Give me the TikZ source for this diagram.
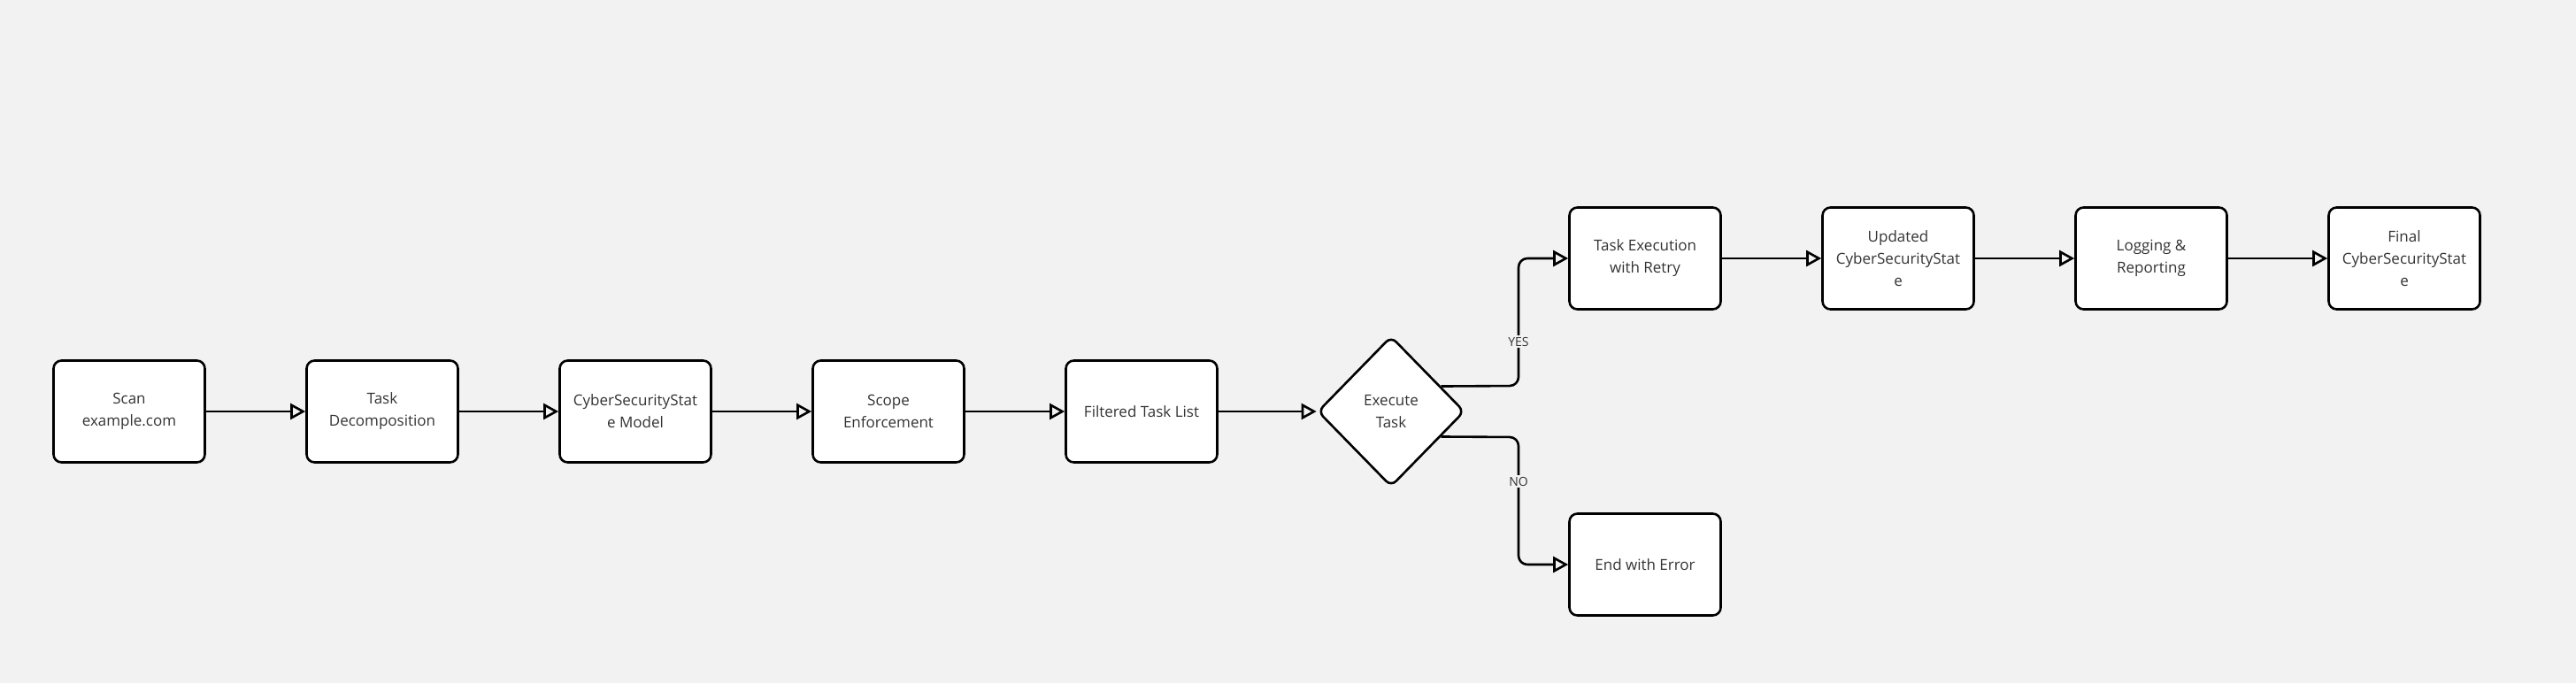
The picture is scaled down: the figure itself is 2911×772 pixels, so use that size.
\documentclass[tikz,border=0pt]{standalone}
\usepackage{fontspec}
\setmainfont{Open Sans}
\usetikzlibrary{shapes.geometric,arrows.meta,calc}
\begin{document}
\begin{tikzpicture}[x=1pt,y=-1pt,
  box/.style={draw=black,fill=white,line width=2.6pt,rounded corners=9pt,minimum width=171pt,minimum height=115pt,inner sep=0,align=center,text=black!80,font=\fontsize{17}{25}\selectfont},
  arr/.style={line width=2.6pt,-{Triangle[open,length=17pt,width=18pt,line width=2.6pt]},rounded corners=10pt},
  lab/.style={fill=bgc,inner sep=2pt,text=black!80,font=\fontsize{14}{16}\selectfont}]
\definecolor{bgc}{HTML}{F2F2F2}
\fill[bgc] (0,0) rectangle (2911,772);
\useasboundingbox (0,0) rectangle (2911,772);
\node[box] (scan) at (146,465) {Scan\\example.com};
\node[box] (td) at (432,465) {Task\\Decomposition};
\node[box] (csm) at (718,465) {CyberSecurityStat\\e Model};
\node[box] (se) at (1004,465) {Scope\\Enforcement};
\node[box] (ftl) at (1290,465) {Filtered Task List};
\node[draw=black,fill=white,line width=2.6pt,diamond,rounded corners=8pt,minimum width=166pt,minimum height=170pt,inner sep=0,align=center,text=black!80,font=\fontsize{17}{25}\selectfont] (d) at (1572,465) {Execute\\Task};
\node[box] (te) at (1859,292) {Task Execution\\with Retry};
\node[box] (up) at (2145,292) {Updated\\CyberSecurityStat\\e};
\node[box] (lr) at (2431,292) {Logging \&\\Reporting};
\node[box] (fin) at (2717,292) {Final\\CyberSecurityStat\\e};
\node[box] (err) at (1859,638) {End with Error};
\draw[arr] (scan) -- (td);
\draw[arr] (td) -- (csm);
\draw[arr] (csm) -- (se);
\draw[arr] (se) -- (ftl);
\draw[arr] (ftl) -- (d);
\draw[arr] (te) -- (up);
\draw[arr] (up) -- (lr);
\draw[arr] (lr) -- (fin);
\coordinate (y0) at ($(d.east)!0.33!(d.north)$);
\coordinate (n0) at ($(d.east)!0.33!(d.south)$);
\draw[arr] (y0) -- (1716,436) -- (1716,292) -- (te.west);
\draw[arr] (n0) -- (1716,494) -- (1716,638) -- (err.west);
\node[lab] (yes) at (1716,386) {YES};
\node[lab] (no) at (1716,544) {NO};
\end{tikzpicture}
\end{document}
